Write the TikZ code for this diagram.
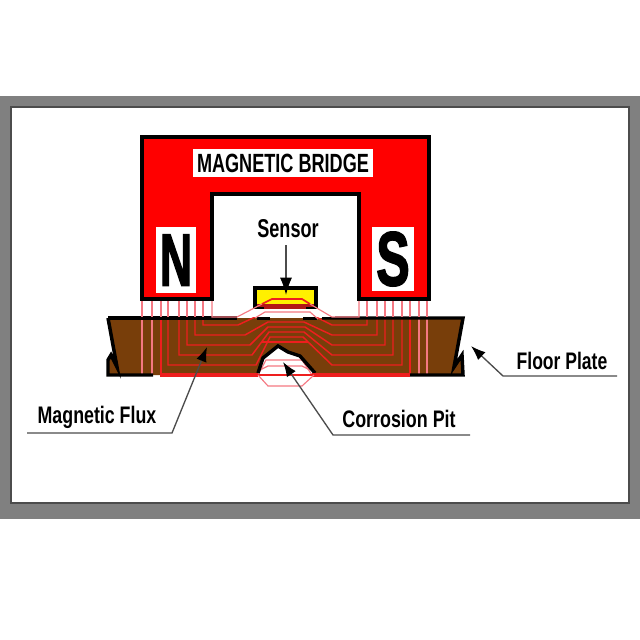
\documentclass[tikz,border=0pt]{standalone}
\usepackage{fontspec}
\setmainfont{Liberation Sans}
\newfontfamily\heavyfont[FakeBold=2.5]{Liberation Sans}
\usetikzlibrary{arrows.meta}
\definecolor{framegray}{RGB}{128,128,128}
\definecolor{plate}{RGB}{120,62,10}
\definecolor{flux}{RGB}{238,30,30}
\definecolor{fluxlight}{RGB}{245,120,130}
\definecolor{sens}{RGB}{255,240,0}
\tikzset{
  fluxline/.style={draw=flux,line width=1.1pt},
  fluxpale/.style={draw=fluxlight,line width=0.85pt},
  outline/.style={draw=black,line width=2.6pt,line join=miter},
  plateedge/.style={draw=black,line width=2.6pt},
  lead/.style={draw=black!70,line width=1pt},
  leadarrow/.style={lead,-{Latex[length=11pt,width=8pt,black]}},
  lab/.style={text=black,inner sep=0pt}
}
\newcommand{\fit}[3]{\resizebox{#1}{#2}{\bfseries #3}}
\newcommand{\fitheavy}[3]{\resizebox{#1}{#2}{\heavyfont\bfseries #3}}
\begin{document}
\begin{tikzpicture}[x=0.75pt,y=-0.75pt]
\useasboundingbox (0,0) rectangle (640,640);
\fill[white] (0,0) rectangle (640,640);
\fill[framegray] (0,96) rectangle (640,519);
\draw[fill=white,draw=black!70,line width=1pt] (11,107) rectangle (629,503);
% magnet
\draw[outline,fill=red] (142,137) -- (429,137) -- (429,299) -- (359,299) -- (359,194) -- (212,194) -- (212,299) -- (142,299) -- cycle;
\node[fill=white,minimum width=135pt,minimum height=21pt,inner sep=0pt] (bridge) at (283,163) {\fit{129pt}{13.8pt}{MAGNETIC BRIDGE}};
\node[fill=white,minimum width=30pt,minimum height=49pt,inner sep=0pt] (n) at (176,260) {\fitheavy{24pt}{38pt}{N}};
\node[fill=white,minimum width=32pt,minimum height=48pt,inner sep=0pt] (s) at (393,259) {\fitheavy{25pt}{40pt}{S}};
% plate
\fill[plate] (108,318) -- (463,318) -- (454,367) -- (462,355) -- (463,375) -- (108,375) -- (108,360) -- (111,355) -- (117,367) -- cycle;
% pit
\fill[white] (258,375) -- (263,358) -- (278,346) -- (288,352) -- (300,356) -- (316,375) -- cycle;
% flux lines in plate
\foreach \xa/\ya/\xs/\yc/\xe/\xt/\xb in {203/325/238/311/268/304/367,195/335/245/322/268/304/377,187/345/250/327/268/305/385,179/355/252/332/269/304/393,168/365/256/337/270/303/402}{
  \draw[fluxline] (\xa,318) -- (\xa,\ya) -- (\xs,\ya) -- (\xe,\yc) -- (\xt,\yc) -- (332,\ya) -- (\xb,\ya) -- (\xb,318);
}
\draw[fluxline] (262,342) -- (308,342);
\draw[fluxline] (161,318) -- (161,375);
\draw[fluxline] (410,318) -- (410,375);
\draw[fluxpale] (152,318) -- (152,375);
\draw[fluxpale] (419,318) -- (419,375);
\draw[fluxpale] (142,318) -- (142,375);
\draw[fluxpale] (427,318) -- (427,375);
\draw[fluxpale] (258,375) -- (266,360) -- (302,360) -- (312,375);
\draw[fluxpale] (260,370) -- (268,366) -- (302,366) -- (310,370);
% plate outline
\draw[plateedge] (108,318) -- (237,318);
\draw[plateedge] (257,318) -- (270,318);
\draw[plateedge] (303,318) -- (317,318);
\draw[plateedge] (322,318) -- (463,318) -- (454,367) -- (462,355) -- (463,375) -- (410,375);
\draw[plateedge] (153,375) -- (108,375) -- (108,360) -- (111,355) -- (117,367) -- (108,318);
\draw[plateedge] (258,373) -- (263,358) -- (278,346) -- (288,352) -- (300,356) -- (315,373);
\draw[fluxline,line width=2.6pt] (160,375) -- (258,375);
\draw[fluxline,line width=2.6pt] (312,375) -- (410,375);
\draw[fluxline] (258,375) -- (312,375);
\draw[fluxpale] (258,375) -- (268,386) -- (302,386) -- (314,375);
% sensor
\fill[white] (237,309.5) rectangle (335,316.6);
\draw[outline,fill=sens] (255,288) rectangle (316,307);
\fill[flux!75!black] (257,304) rectangle (314,309);
\draw[plateedge,line width=2pt] (255,308) -- (264,308);
\draw[plateedge,line width=2pt] (306,308) -- (316,308);
\draw[fluxpale] (212,301) -- (212,317) -- (237,317) -- (262,304);
\draw[fluxpale] (310,304) -- (332,317) -- (359,317) -- (359,301);
\draw[draw=flux,line width=1.3pt] (262,304) -- (272,299) -- (302,299) -- (310,304);
\draw[fluxpale] (255,318) -- (265,312) -- (310,312) -- (318,319);
% verticals above plate
\foreach \x in {142,152,161,168,179,187,195,203,367,377,385,393,402,410,419,427}{
  \draw[fluxpale] (\x,301) -- (\x,317);
}
% labels
\node[lab] (sensorlab) at (288,229) {\fit{46pt}{13.5pt}{Sensor}};
\coordinate (sensorfrom) at (286,245);
\coordinate (sensorto) at (286,295);
\draw[lead,-{Latex[length=13pt,width=9pt,black]}] (sensorfrom) -- (sensorto);
\node[lab] (fluxlab) at (97,417) {\fit{89pt}{13pt}{Magnetic Flux}};
\coordinate (fa) at (27,433); \coordinate (fb) at (172,433); \coordinate (fc) at (207,347);
\draw[leadarrow] (fa) -- (fb) -- (fc);
\node[lab] (pitlab) at (399,419) {\fit{85pt}{13pt}{Corrosion Pit}};
\coordinate (pa) at (470,435); \coordinate (pb) at (333,435); \coordinate (pc) at (283,362);
\draw[leadarrow] (pa) -- (pb) -- (pc);
\node[lab] (floorlab) at (562,361) {\fit{68pt}{13pt}{Floor Plate}};
\coordinate (ga) at (617,376); \coordinate (gb) at (503,376); \coordinate (gc) at (471,346);
\draw[leadarrow] (ga) -- (gb) -- (gc);
\end{tikzpicture}
\end{document}
